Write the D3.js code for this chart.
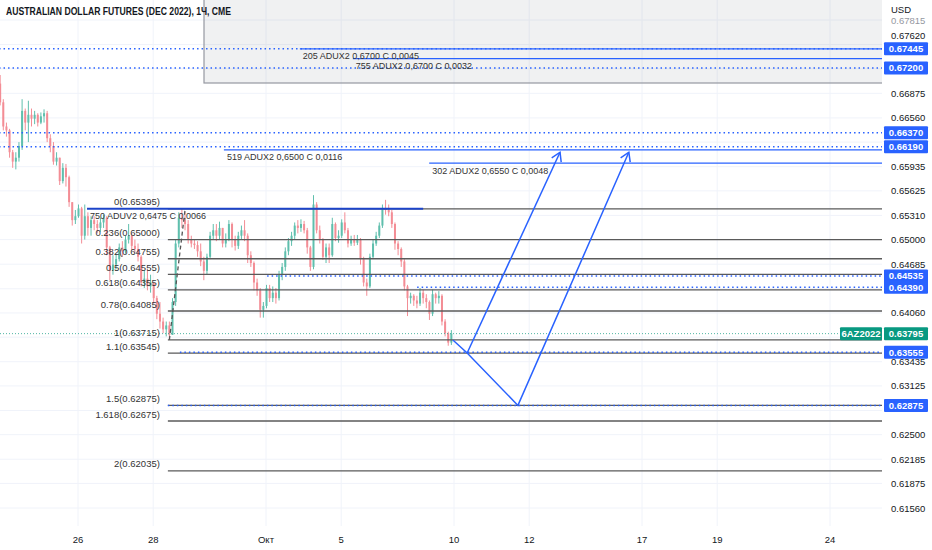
<!DOCTYPE html>
<html>
<head>
<meta charset="utf-8">
<script src="https://cdn.jsdelivr.net/npm/d3@7"></script>
<style>
  body { margin: 0; background: #fff; }
  svg { display: block; font-family: "Liberation Sans", Arial, sans-serif; }
</style>
</head>
<body>
<svg id="chart" width="932" height="550"></svg>
<script>
//^^^^^^^^^^^^^^^^^^^^^^^^^^^^^^^^^^^^^^^^^^^^^^^^^^^^^^^^^^^^^^^^^^^^^^^^^^^^^^
// Data: 2-hour bars of 6A Dec 2022, prices in pips (6540 = 0.6540)
//------------------------------------------------------------------------------
var firstOpen = 6700;
var closes = [6676, 6645, 6640, 6612, 6600, 6605, 6620, 6665, 6650, 6660,
    6655, 6660, 6650, 6658, 6662, 6630, 6620, 6600, 6605, 6575,
    6592, 6580, 6548, 6525, 6530, 6540, 6505, 6530, 6515, 6525,
    6520, 6515, 6522, 6528, 6490, 6460, 6468, 6475, 6490, 6485,
    6500, 6505, 6492, 6488, 6478, 6445, 6450, 6440, 6445, 6425,
    6405, 6395, 6385, 6390, 6378, 6420, 6495, 6528, 6525, 6520,
    6500, 6495, 6493, 6485, 6472, 6460, 6478, 6505, 6512, 6505,
    6515, 6495, 6500, 6520, 6500, 6492, 6505, 6512, 6505, 6480,
    6470, 6445, 6435, 6410, 6415, 6438, 6425, 6432, 6425, 6455,
    6465, 6485, 6498, 6505, 6518, 6515, 6520, 6512, 6490, 6465,
    6545, 6512, 6500, 6478, 6490, 6480, 6520, 6502, 6505, 6522,
    6512, 6495, 6500, 6496, 6500, 6475, 6445, 6440, 6478, 6495,
    6505, 6518, 6540, 6538, 6535, 6520, 6495, 6488, 6472, 6440,
    6425, 6428, 6422, 6418, 6432, 6425, 6420, 6405, 6430, 6425,
    6428, 6395, 6380, 6368, 6379.5];
var highs = [6711, 6680, 6650, 6642, 6615, 6612, 6625, 6680, 6668, 6678,
    6668, 6665, 6662, 6663, 6667, 6665, 6635, 6625, 6612, 6605,
    6598, 6597, 6582, 6548, 6538, 6545, 6542, 6545, 6535, 6530,
    6530, 6525, 6528, 6532, 6530, 6492, 6480, 6482, 6495, 6498,
    6505, 6520, 6508, 6500, 6495, 6480, 6460, 6462, 6455, 6445,
    6428, 6420, 6400, 6395, 6395, 6425, 6500, 6535, 6540, 6535,
    6525, 6505, 6500, 6498, 6495, 6478, 6482, 6510, 6520, 6520,
    6523, 6515, 6508, 6525, 6522, 6505, 6510, 6518, 6525, 6508,
    6485, 6472, 6450, 6438, 6420, 6442, 6442, 6440, 6438, 6460,
    6470, 6490, 6502, 6510, 6522, 6525, 6526, 6524, 6515, 6492,
    6557, 6548, 6518, 6502, 6495, 6495, 6528, 6522, 6512, 6526,
    6535, 6515, 6505, 6506, 6506, 6502, 6478, 6450, 6482, 6500,
    6510, 6522, 6545, 6551, 6545, 6538, 6522, 6498, 6490, 6475,
    6442, 6432, 6430, 6428, 6438, 6436, 6430, 6422, 6436, 6432,
    6434, 6430, 6398, 6382, 6384];
var lows = [6672, 6640, 6632, 6605, 6592, 6590, 6600, 6615, 6640, 6625,
    6645, 6648, 6645, 6648, 6650, 6625, 6612, 6596, 6595, 6570,
    6572, 6568, 6542, 6518, 6520, 6528, 6495, 6500, 6505, 6505,
    6512, 6508, 6510, 6515, 6480, 6448, 6455, 6462, 6472, 6478,
    6482, 6495, 6486, 6484, 6472, 6440, 6438, 6435, 6432, 6418,
    6398, 6386, 6380, 6376, 6372, 6378, 6415, 6490, 6515, 6512,
    6495, 6490, 6488, 6478, 6466, 6448, 6455, 6475, 6500, 6498,
    6500, 6490, 6490, 6498, 6490, 6486, 6488, 6500, 6498, 6470,
    6465, 6435, 6428, 6400, 6400, 6412, 6420, 6420, 6418, 6422,
    6448, 6460, 6480, 6492, 6500, 6508, 6510, 6508, 6482, 6460,
    6462, 6508, 6495, 6474, 6470, 6470, 6478, 6498, 6496, 6502,
    6508, 6490, 6492, 6492, 6493, 6468, 6440, 6428, 6438, 6475,
    6492, 6502, 6515, 6532, 6530, 6515, 6487, 6480, 6465, 6435,
    6402, 6418, 6415, 6412, 6415, 6418, 6412, 6397, 6402, 6418,
    6418, 6390, 6376, 6364, 6365];
var barsPerDay = 12,
    firstBarDay = -2.07;          // trading days, 0 = 26 Sep

var dayTicks = [0, 2, 5, 7, 10, 12, 15, 17, 20];
var dayLabels = ["26", "28", "Окт", "5", "10", "12", "17", "19", "24"];

var priceTicks = [0.67815, 0.67620, 0.66875, 0.66560, 0.65935, 0.65625, 0.65310,
    0.65000, 0.64685, 0.64060, 0.63435, 0.63125, 0.62500, 0.62185, 0.61875, 0.61560];
var gridPrices = [0.67815, 0.67500, 0.67190, 0.66875, 0.66560, 0.66250, 0.65935,
    0.65625, 0.65310, 0.65000, 0.64685, 0.64370, 0.64060, 0.63750, 0.63435,
    0.63125, 0.62810, 0.62500, 0.62185, 0.61875, 0.61560];

var fibRatios = ["0", "0.236", "0.382", "0.5", "0.618", "0.78", "1", "1.1", "1.5", "1.618", "2"];
var fibPrices = [0.65395, 0.65000, 0.64755, 0.64555, 0.64355, 0.64085, 0.63715,
    0.63545, 0.62875, 0.62675, 0.62035];
var fibStartDay = 2.39;

var alertPrices = [0.67445, 0.67200, 0.66370, 0.66190, 0.64535, 0.64390, 0.63555, 0.62875];
var alertFromDay = [-2.1, -2.1, -2.1, -2.1, 5.03, 9.02, 2.71, 2.39];

var optionPrices = [0.67445, 0.67320, 0.66150, 0.65980, 0.65395];
var optionFromDay = [5.90, 7.31, 3.88, 9.34, 0.24];
var optionToDay = [null, null, null, null, 9.18];
var optionLabels = ["205 ADUX2 0,6700 C 0,0045", "755 ADUX2 0,6700 C 0,0032",
    "519 ADUX2 0,6500 C 0,0116", "302 ADUX2 0,6550 C 0,0048", "750 ADUV2 0,6475 C 0,0066"];

var lastPrice = 0.63795,
    symbol = "6AZ2022";

var pathDays = [9.97, 10.35, 11.70, 14.65];
var pathPrices = [0.63714, 0.63547, 0.62875, 0.66120];
var branchDays = [10.35, 12.82];
var branchPrices = [0.63547, 0.66120];

var fibTrendDays = [2.43, 2.85];
var fibTrendPrices = [0.63715, 0.65395];

//^^^^^^^^^^^^^^^^^^^^^^^^^^^^^^^^^^^^^^^^^^^^^^^^^^^^^^^^^^^^^^^^^^^^^^^^^^^^^^
// Scales and layers
//------------------------------------------------------------------------------
var svg = d3.select("#chart"),
    plotRight = 882,
    plotBottom = 526,
    blue = "#2962ff",
    teal = "#089981",
    textColor = "#131722";

var x = d3.scaleLinear().domain([0, 20]).range([78, 830]),
    y = d3.scaleLinear().domain([0.67815, 0.61560]).range([20, 508]);

var bars = closes.map(function(c, i) {
    return {
        day: firstBarDay + i / barsPerDay,
        o: (i === 0 ? firstOpen : closes[i - 1]) / 10000,
        h: highs[i] / 10000,
        l: lows[i] / 10000,
        c: c / 10000
    };
});

svg.append("rect").attr("width", 932).attr("height", 550).attr("fill", "#fff");

svg.append("defs").append("clipPath").attr("id", "plot-clip")
    .append("rect").attr("x", 0).attr("y", 0)
    .attr("width", plotRight).attr("height", plotBottom);

var plot = svg.append("g").attr("clip-path", "url(#plot-clip)");

// grid
plot.append("g").selectAll("line").data(gridPrices).enter().append("line")
    .attr("x1", 0).attr("x2", plotRight)
    .attr("y1", function(d) { return y(d); })
    .attr("y2", function(d) { return y(d); })
    .attr("stroke", "#f0f3fa").attr("stroke-width", 1);

plot.append("g").selectAll("line").data(dayTicks).enter().append("line")
    .attr("x1", function(d) { return x(d); })
    .attr("x2", function(d) { return x(d); })
    .attr("y1", 0).attr("y2", plotBottom)
    .attr("stroke", "#f0f3fa").attr("stroke-width", 1);

// shaded box at the top
plot.append("rect")
    .attr("x", 204).attr("y", -2)
    .attr("width", plotRight - 204 + 2).attr("height", 85)
    .attr("fill", "rgba(120,123,134,0.11)")
    .attr("stroke", "#9598a1").attr("stroke-width", 1.2);

//^^^^^^^^^^^^^^^^^^^^^^^^^^^^^^^^^^^^^^^^^^^^^^^^^^^^^^^^^^^^^^^^^^^^^^^^^^^^^^
// Candles
//------------------------------------------------------------------------------
var candle = plot.append("g").selectAll("g").data(bars).enter().append("g");

candle.append("line")
    .attr("x1", function(d) { return x(d.day); })
    .attr("x2", function(d) { return x(d.day); })
    .attr("y1", function(d) { return y(d.h); })
    .attr("y2", function(d) { return y(d.l); })
    .attr("stroke", function(d) { return d.c >= d.o ? "#5fbfad" : "#f38d95"; })
    .attr("stroke-width", 1);

candle.append("rect")
    .attr("x", function(d) { return x(d.day) - 1; })
    .attr("width", 2)
    .attr("y", function(d) { return y(Math.max(d.o, d.c)); })
    .attr("height", function(d) { return Math.max(1, Math.abs(y(d.o) - y(d.c))); })
    .attr("fill", function(d) { return d.c >= d.o ? "#5fbfad" : "#f38d95"; });

//^^^^^^^^^^^^^^^^^^^^^^^^^^^^^^^^^^^^^^^^^^^^^^^^^^^^^^^^^^^^^^^^^^^^^^^^^^^^^^
// Drawings: fib levels, price lines, option levels, arrows
//------------------------------------------------------------------------------
plot.append("line")
    .attr("x1", 0).attr("x2", plotRight)
    .attr("y1", y(lastPrice)).attr("y2", y(lastPrice))
    .attr("stroke", teal).attr("stroke-width", 1)
    .attr("stroke-dasharray", "1,2").attr("opacity", 0.7);

plot.append("g").selectAll("line").data(fibPrices).enter().append("line")
    .attr("x1", x(fibStartDay)).attr("x2", plotRight)
    .attr("y1", function(d) { return y(d); })
    .attr("y2", function(d) { return y(d); })
    .attr("stroke", "#5a5a5a").attr("stroke-width", 1.3);

plot.append("g").selectAll("text").data(fibPrices).enter().append("text")
    .attr("x", x(fibStartDay) - 8)
    .attr("y", function(d) { return y(d) - 3.5; })
    .attr("text-anchor", "end")
    .attr("font-size", 9.5)
    .attr("fill", "#333")
    .text(function(d, i) { return fibRatios[i] + "(" + d.toFixed(5) + ")"; });

plot.append("line")
    .attr("x1", x(fibTrendDays[0])).attr("y1", y(fibTrendPrices[0]))
    .attr("x2", x(fibTrendDays[1])).attr("y2", y(fibTrendPrices[1]))
    .attr("stroke", "#555").attr("stroke-width", 1.3)
    .attr("stroke-dasharray", "4,3");

plot.append("g").selectAll("line").data(alertPrices).enter().append("line")
    .attr("x1", function(d, i) { return x(alertFromDay[i]); })
    .attr("x2", plotRight)
    .attr("y1", function(d) { return y(d); })
    .attr("y2", function(d) { return y(d); })
    .attr("stroke", blue).attr("stroke-width", 1.5)
    .attr("stroke-dasharray", "1.5,3");

plot.append("g").selectAll("line").data(optionPrices).enter().append("line")
    .attr("x1", function(d, i) { return x(optionFromDay[i]); })
    .attr("x2", function(d, i) { return optionToDay[i] === null ? plotRight : x(optionToDay[i]); })
    .attr("y1", function(d) { return y(d); })
    .attr("y2", function(d) { return y(d); })
    .attr("stroke", function(d, i) { return optionToDay[i] === null ? blue : "#1c44c9"; })
    .attr("stroke-width", function(d, i) { return optionToDay[i] === null ? 1.3 : 2; });

plot.append("g").selectAll("text").data(optionPrices).enter().append("text")
    .attr("x", function(d, i) { return x(optionFromDay[i]) + 3; })
    .attr("y", function(d) { return y(d) + 10.5; })
    .attr("font-size", 9)
    .attr("fill", "#333")
    .text(function(d, i) { return optionLabels[i]; });

var pathLine = d3.line()
    .x(function(d) { return x(d[0]); })
    .y(function(d) { return y(d[1]); });

function arrowHead(from, to) {
    var x1 = x(from[0]), y1 = y(from[1]), x2 = x(to[0]), y2 = y(to[1]),
        a = Math.atan2(y1 - y2, x1 - x2), len = 10, spread = 0.55;
    return "M" + (x2 + len * Math.cos(a - spread)) + "," + (y2 + len * Math.sin(a - spread)) +
        "L" + x2 + "," + y2 +
        "L" + (x2 + len * Math.cos(a + spread)) + "," + (y2 + len * Math.sin(a + spread));
}

var zig = pathDays.map(function(d, i) { return [d, pathPrices[i]]; }),
    branch = branchDays.map(function(d, i) { return [d, branchPrices[i]]; });

var arrows = plot.append("g")
    .attr("fill", "none").attr("stroke", blue).attr("stroke-width", 1.5);

arrows.append("path").attr("d", pathLine(zig));
arrows.append("path").attr("d", pathLine(branch));
arrows.append("path").attr("d", arrowHead(zig[2], zig[3]));
arrows.append("path").attr("d", arrowHead(branch[0], branch[1]));

//^^^^^^^^^^^^^^^^^^^^^^^^^^^^^^^^^^^^^^^^^^^^^^^^^^^^^^^^^^^^^^^^^^^^^^^^^^^^^^
// Axes and title
//------------------------------------------------------------------------------
svg.append("text")
    .attr("x", 6).attr("y", 15)
    .attr("font-size", 10).attr("font-weight", "bold")
    .attr("fill", textColor)
    .attr("textLength", 225).attr("lengthAdjust", "spacingAndGlyphs")
    .text("AUSTRALIAN DOLLAR FUTURES (DEC 2022), 1Ч, CME");

svg.append("text")
    .attr("x", 891).attr("y", 13)
    .attr("font-size", 9.5).attr("fill", textColor)
    .text("USD");

svg.append("g").selectAll("text").data(priceTicks).enter().append("text")
    .attr("x", 891)
    .attr("y", function(d) { return y(d) + 3.5; })
    .attr("font-size", 9.5)
    .attr("fill", function(d, i) { return i === 0 ? "#9598a1" : textColor; })
    .text(function(d) { return d.toFixed(5); });

svg.append("g").selectAll("text").data(dayTicks).enter().append("text")
    .attr("x", function(d) { return x(d); })
    .attr("y", 543)
    .attr("text-anchor", "middle")
    .attr("font-size", 9.5)
    .attr("fill", textColor)
    .text(function(d, i) { return dayLabels[i]; });

function priceTag(g, price, label, color, left, width) {
    g.append("rect")
        .attr("x", left).attr("y", y(price) - 6.5)
        .attr("width", width).attr("height", 13)
        .attr("rx", 1)
        .attr("fill", color);
    g.append("text")
        .attr("x", left + width / 2).attr("y", y(price) + 3.5)
        .attr("text-anchor", "middle")
        .attr("font-size", 9.5).attr("font-weight", "bold")
        .attr("fill", "#fff")
        .text(label);
}

var tags = svg.append("g");
alertPrices.forEach(function(p) {
    priceTag(tags, p, p.toFixed(5), blue, 884, 44);
});
priceTag(tags, lastPrice, lastPrice.toFixed(5), teal, 884, 44);
priceTag(tags, lastPrice, symbol, teal, 840, 42);
</script>
</body>
</html>
